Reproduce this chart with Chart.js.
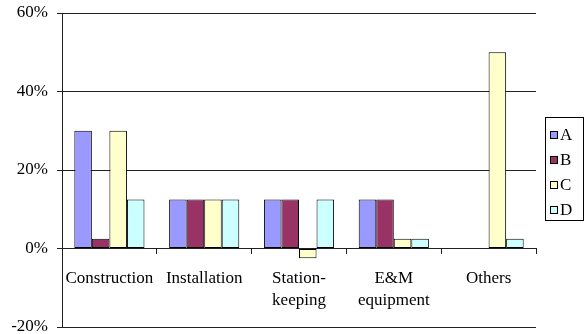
<!DOCTYPE html>
<html>
<head>
<meta charset="utf-8">
<script src="https://cdn.jsdelivr.net/npm/chart.js@4/dist/chart.umd.min.js"></script>
<style>
  html, body { margin: 0; padding: 0; background: #fff; }
  #wrap { width: 584px; height: 334px; }
</style>
</head>
<body>
<div id="wrap"><canvas id="c" width="584" height="334"></canvas></div>
<script>
// Cost categories (multi-line labels are arrays)
const categories = ['Construction', 'Installation', ['Station-', 'keeping'], ['E&M', 'equipment'], 'Others'];
// Share per category, in percent
const seriesA = [30, 12.5, 12.5, 12.5, 0];
const seriesB = [2.5, 12.5, 12.5, 12.5, 0];
const seriesC = [30, 12.5, -2.5, 2.5, 50];
const seriesD = [12.5, 12.5, 12.5, 2.5, 2.5];
const seriesNames = ['A', 'B', 'C', 'D'];
const seriesColors = ['#9999FF', '#993366', '#FFFFCC', '#CCFFFF'];
const yTicks = [-20, 0, 20, 40, 60];

const serif = '"Liberation Serif", serif';
const lineCol = '#202020';

// Boxed legend drawn at the right of the plot
const boxedLegend = {
  id: 'boxedLegend',
  afterDraw(chart) {
    const ctx = chart.ctx;
    const left = 545, top = 117, w = 38, h = 103;
    ctx.save();
    ctx.fillStyle = '#fff';
    ctx.fillRect(left, top, w, h);
    ctx.strokeStyle = '#000';
    ctx.lineWidth = 1;
    ctx.strokeRect(left + 0.5, top + 0.5, w, h);
    ctx.font = '17px ' + serif;
    ctx.textBaseline = 'middle';
    ctx.textAlign = 'left';
    chart.data.datasets.forEach((ds, i) => {
      const cy = 135 + i * 25;
      ctx.fillStyle = ds.backgroundColor;
      ctx.fillRect(550.5, cy - 3.5, 7, 7);
      ctx.strokeStyle = '#000';
      ctx.strokeRect(550.5, cy - 3.5, 7, 7);
      ctx.fillStyle = '#000';
      ctx.fillText(ds.label, 560, cy + 1);
    });
    ctx.restore();
  }
};

const datasets = [seriesA, seriesB, seriesC, seriesD].map((vals, i) => ({
  label: seriesNames[i],
  data: vals,
  backgroundColor: seriesColors[i],
  borderColor: '#000',
  borderWidth: 1,
  borderSkipped: false,
  categoryPercentage: 0.74,
  barPercentage: 1.0
}));

new Chart(document.getElementById('c'), {
  type: 'bar',
  data: { labels: categories, datasets },
  options: {
    responsive: false,
    animation: false,
    devicePixelRatio: 1,
    layout: { padding: { left: 0, right: 48, top: 13, bottom: 7 } },
    plugins: { legend: { display: false }, tooltip: { enabled: false } },
    scales: {
      x: {
        position: { y: 0 },
        grid: { drawOnChartArea: false, drawTicks: true, tickLength: 5, color: lineCol, offset: true },
        border: { display: true, color: lineCol, width: 1 },
        ticks: { color: '#000', font: { family: serif, size: 17, lineHeight: 1.3 }, padding: 14, maxRotation: 0, autoSkip: false }
      },
      y: {
        min: -20,
        max: 60,
        afterBuildTicks(scale) { scale.ticks = yTicks.map(v => ({ value: v })); },
        afterFit(scale) { scale.width = 62; scale.paddingTop = 0; scale.paddingBottom = 0; },
        grid: { color: lineCol, lineWidth: 1, tickLength: 5, drawTicks: true },
        border: { display: true, color: lineCol, width: 1 },
        ticks: { color: '#000', font: { family: serif, size: 17 }, padding: 9, callback: v => v + '%' }
      }
    }
  },
  plugins: [boxedLegend]
});
</script>
</body>
</html>
